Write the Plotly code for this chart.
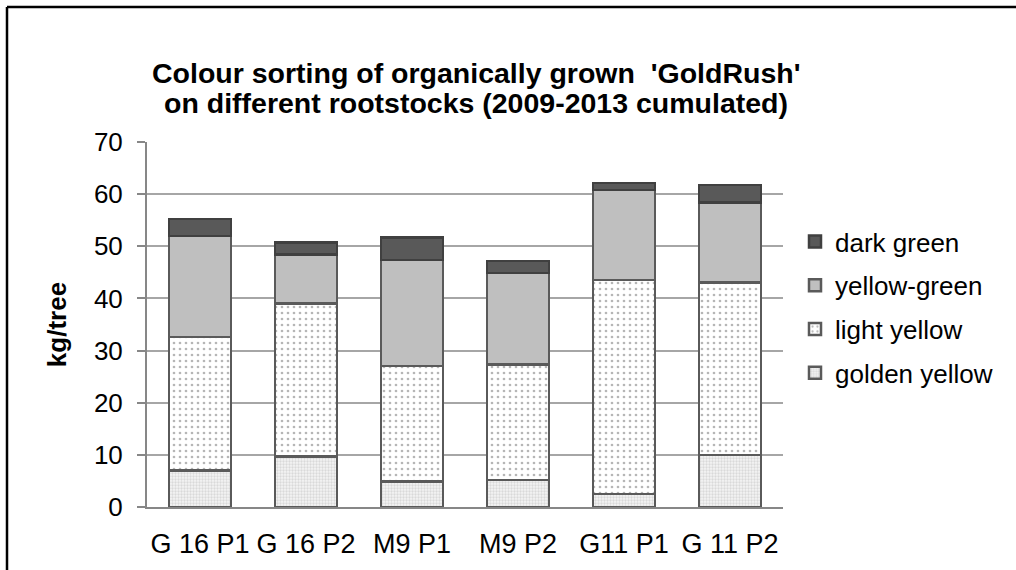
import plotly.graph_objects as go

# Rootstock / planting variants on the x axis
categories = ["G 16 P1", "G 16 P2", "M9 P1", "M9 P2", "G11 P1", "G 11 P2"]

# Cumulated yield per colour class (kg/tree), stacked bottom to top
golden_yellow = [7.0, 9.7, 4.9, 5.2, 2.5, 10.0]
light_yellow = [25.6, 29.3, 22.1, 22.1, 41.0, 33.1]
yellow_green = [19.4, 9.4, 20.4, 17.6, 17.3, 15.3]
dark_green = [3.2, 2.3, 4.3, 2.3, 1.3, 3.4]

y_ticks = [0, 10, 20, 30, 40, 50, 60, 70]

title_lines = [
    "Colour sorting of organically grown  'GoldRush'",
    "on different rootstocks (2009-2013 cumulated)",
]

FONT = "Liberation Sans, Arial, sans-serif"

fig = go.Figure()

fig.add_trace(go.Bar(
    x=categories, y=golden_yellow, name="golden yellow",
    legendgroup="g1", legendrank=4,
    marker=dict(color="#f2f2f2",
                pattern=dict(shape=".", fgcolor="#bdbdbd", bgcolor="#f4f4f4",
                             size=3, solidity=0.45),
                line=dict(color="#5a5a5a", width=2.5)),
))
fig.add_trace(go.Bar(
    x=categories, y=light_yellow, name="light yellow",
    legendgroup="g2", legendrank=3,
    marker=dict(color="#ffffff",
                pattern=dict(shape=".", fgcolor="#6e6e6e", bgcolor="#ffffff",
                             size=6, solidity=0.16),
                line=dict(color="#5a5a5a", width=2.5)),
))
fig.add_trace(go.Bar(
    x=categories, y=yellow_green, name="yellow-green",
    legendgroup="g3", legendrank=2,
    marker=dict(color="#bfbfbf", line=dict(color="#5a5a5a", width=2.5)),
))
fig.add_trace(go.Bar(
    x=categories, y=dark_green, name="dark green",
    legendgroup="g4", legendrank=1,
    marker=dict(color="#595959", line=dict(color="#404040", width=2.5)),
))

# Plot area: x 147..783 px, y 142..507 px
L, R, T, B = 147, 1016 - 783, 142, 570 - 507
W, H = 1016 - L - R, 570 - T - B

def px_x(px):
    return (px - L) / W

def px_y(py):
    return (570 - B - py) / H

# two-line chart title, drawn line by line for tight spacing
title_annotations = [
    dict(text=f"<b>{line}</b>", xref="paper", yref="paper",
         x=px_x(476), y=px_y(yc), xanchor="center", yanchor="middle",
         showarrow=False, font=dict(family=FONT, size=28.5, color="black"))
    for line, yc in zip(title_lines, [73, 103])
]

fig.update_layout(
    width=1016, height=570,
    margin=dict(l=L, r=R, t=T, b=B, autoexpand=False),
    paper_bgcolor="white", plot_bgcolor="white",
    barmode="stack", bargap=0.415,
    font=dict(family=FONT, size=26, color="black"),
    annotations=title_annotations,
    legend=dict(
        x=px_x(795), y=px_y(218), xanchor="left", yanchor="top",
        traceorder="grouped", tracegroupgap=7,
        font=dict(family=FONT, size=26, color="black"),
        bgcolor="rgba(0,0,0,0)",
    ),
    xaxis=dict(
        showline=True, linecolor="#878787", linewidth=2,
        showgrid=False, ticks="", ticklabelstandoff=12,
        tickfont=dict(family=FONT, size=27, color="black"),
    ),
    yaxis=dict(
        range=[0, 70], tickvals=y_ticks, ticktext=[str(v) for v in y_ticks],
        showline=True, linecolor="#878787", linewidth=2,
        showgrid=True, gridcolor="#a6a6a6", gridwidth=1.5,
        ticks="outside", ticklen=8, tickcolor="#878787", tickwidth=1.5,
        ticklabelstandoff=9, zeroline=False,
        tickfont=dict(family=FONT, size=26, color="black"),
        title=dict(text="<b>kg/tree</b>", standoff=20,
                   font=dict(family=FONT, size=26, color="black")),
    ),
    shapes=[
        # outer frame edges (left and top)
        dict(type="line", xref="paper", yref="paper",
             x0=px_x(7), x1=px_x(7), y0=px_y(7), y1=px_y(600),
             line=dict(color="black", width=2.5)),
        dict(type="line", xref="paper", yref="paper",
             x0=px_x(7), x1=px_x(1030), y0=px_y(7), y1=px_y(7),
             line=dict(color="black", width=2.5)),
    ],
)

fig.write_html("out.html")
